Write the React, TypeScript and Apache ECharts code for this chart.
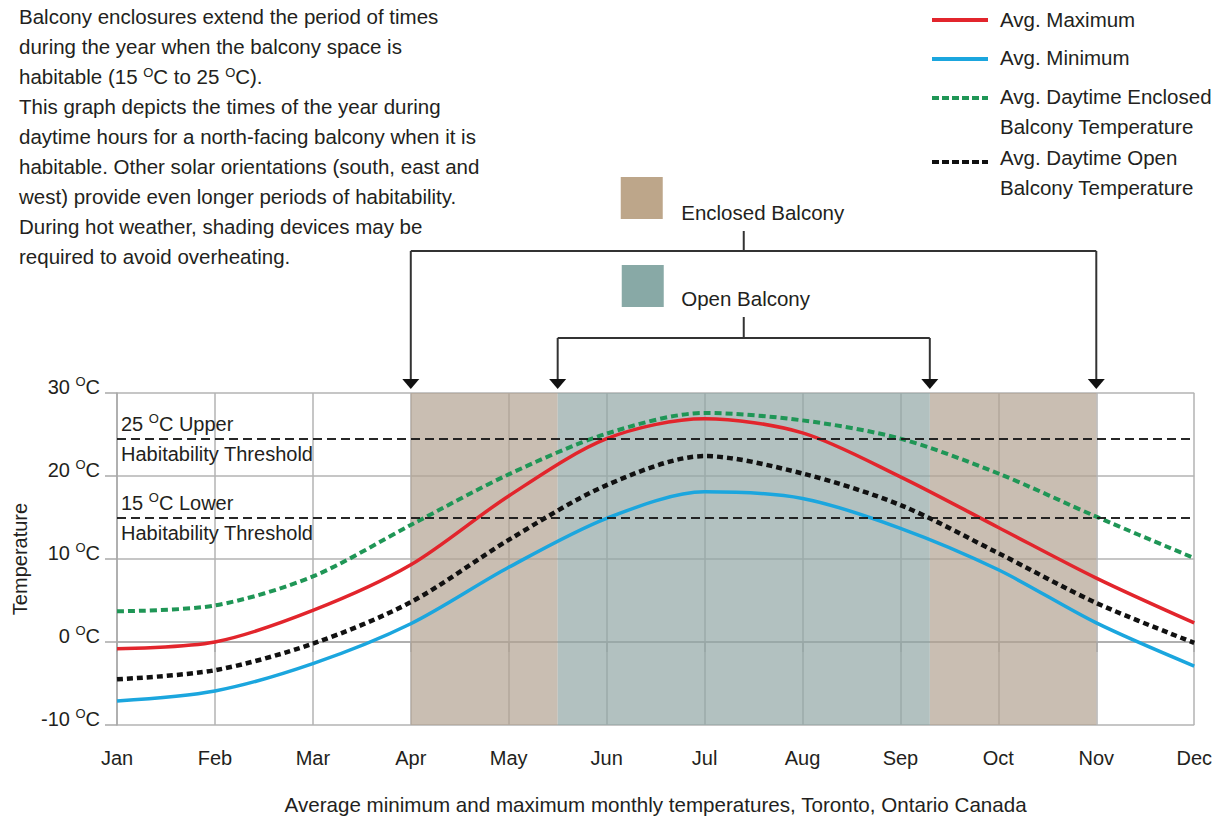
import React, { useEffect, useRef } from "react";
import * as echarts from "echarts";

const months = ["Jan", "Feb", "Mar", "Apr", "May", "Jun", "Jul", "Aug", "Sep", "Oct", "Nov", "Dec"];
const avgMax = [-0.8, 0.0, 3.8, 9.3, 17.6, 24.5, 26.9, 25.2, 19.9, 13.8, 7.7, 2.3];
const avgMin = [-7.1, -5.9, -2.6, 2.2, 9.0, 14.9, 18.1, 17.3, 13.7, 8.7, 2.3, -2.9];
const enclosedTemp = [3.7, 4.4, 7.9, 14.1, 20.2, 25.1, 27.6, 26.7, 24.5, 20.3, 15.1, 10.1];
const openTemp = [-4.5, -3.4, -0.2, 4.8, 12.3, 18.9, 22.4, 20.3, 16.5, 10.7, 4.7, -0.1];

const thresholdValues = [24.5, 15];
const thresholdTop = ["25 {s|O}C Upper", "15 {s|O}C Lower"];
const thresholdBottom = ["Habitability Threshold", "Habitability Threshold"];

const enclosedSpan = [3, 10]; // Apr - Nov
const openSpan = [4.5, 8.3]; // mid May - early Oct

const yMin = -10;
const yMax = 30;
const yStep = 10;

const FONT = "'Liberation Sans', Arial, Helvetica, sans-serif";
const TXT = "#231f20";

const paragraph = [
  "Balcony enclosures extend the period of times",
  "during the year when the balcony space is",
  "habitable (15 {s|O}C to 25 {s|O}C).",
  "This graph depicts the times of the year during",
  "daytime hours for a north-facing balcony when it is",
  "habitable. Other solar orientations (south, east and",
  "west) provide even longer periods of habitability.",
  "During hot weather, shading devices may be",
  "required to avoid overheating.",
];

const COL_MAX = "#e2252c";
const COL_MIN = "#1ba6de";
const COL_ENC = "#1f9656";
const COL_OPEN = "#111111";
const COL_ENC_AREA = "#b2a292";
const COL_OPEN_AREA = "#92a6a5";

export default function App() {
  const ref = useRef<HTMLDivElement>(null);
  useEffect(() => {
    document.body.style.margin = "0";
    const el = ref.current;
    if (!el) return;
    const chart = echarts.init(el, null, { renderer: "svg" });

    const sup = { fontSize: 13, lineHeight: 13, verticalAlign: "top", fontFamily: FONT, color: TXT, fill: TXT };

    const line = (name: string, data: number[], color: string, width: number, type: any) => ({
      name,
      type: "line",
      data: data.map((v, i) => [i, v]),
      smooth: 0.3,
      symbol: "none",
      silent: true,
      z: 4,
      lineStyle: { color, width, type, cap: "butt" },
    });

    const markLineData: any[] = [];
    thresholdValues.forEach((v, i) => {
      markLineData.push({
        yAxis: v,
        label: { formatter: thresholdTop[i], position: "insideStartTop" },
      });
      markLineData.push({
        yAxis: v,
        label: { formatter: thresholdBottom[i], position: "insideStartBottom" },
      });
    });

    // split enclosed span so that open shading is not tinted by it
    const encPieces: number[][] = [
      [enclosedSpan[0], openSpan[0]],
      [openSpan[1], enclosedSpan[1]],
    ];

    const option: any = {
      animation: false,
      grid: { left: 117, right: 20, top: 393, bottom: 95 },
      xAxis: {
        type: "value",
        min: 0,
        max: months.length - 1,
        interval: 1,
        name: "Average minimum and maximum monthly temperatures, Toronto, Ontario Canada",
        nameLocation: "middle",
        nameGap: 69,
        nameTextStyle: { fontSize: 20.6, fontFamily: FONT, color: TXT },
        axisLine: { lineStyle: { color: "#a9a9a9", width: 1.5 } },
        axisTick: { length: 10, lineStyle: { color: "#a9a9a9", width: 1.5 } },
        axisLabel: {
          formatter: (v: number) => months[v] ?? "",
          fontSize: 20,
          fontFamily: FONT,
          color: TXT,
          margin: 21,
          lineHeight: 24,
        },
        splitLine: { show: true, lineStyle: { color: "#b3b3b3", width: 1.5 } },
      },
      yAxis: {
        type: "value",
        min: yMin,
        max: yMax,
        interval: yStep,
        name: "Temperature",
        nameLocation: "middle",
        nameGap: 72,
        nameTextStyle: { fontSize: 20, fontFamily: FONT, color: TXT },
        axisLine: { show: true, lineStyle: { color: "#a9a9a9", width: 1.5 } },
        axisTick: { show: true, length: 12, lineStyle: { color: "#a9a9a9", width: 1.5 } },
        axisLabel: {
          formatter: (v: number) => `${v} {s|O}C`,
          fontSize: 20,
          fontFamily: FONT,
          color: TXT,
          margin: 17,
          lineHeight: 24,
          padding: [0, 0, 13, 0],
          rich: { s: sup },
        },
        splitLine: { show: true, lineStyle: { color: "#b3b3b3", width: 1.5 } },
      },
      series: [
        {
          name: "Enclosed Balcony",
          type: "line",
          data: [],
          silent: true,
          z: 1,
          markArea: {
            silent: true,
            data: [
              ...encPieces.map((p) => [
                { xAxis: p[0], itemStyle: { color: COL_ENC_AREA, opacity: 0.7 } },
                { xAxis: p[1] },
              ]),
              [
                { xAxis: openSpan[0], itemStyle: { color: COL_OPEN_AREA, opacity: 0.7 } },
                { xAxis: openSpan[1] },
              ],
            ],
          },
        },
        {
          name: "Thresholds",
          type: "line",
          data: [],
          silent: true,
          z: 3,
          markLine: {
            silent: true,
            symbol: ["none", "none"],
            lineStyle: { color: "#1a1a1a", width: 1.5, type: [9, 5] },
            label: {
              fontSize: 20,
              fontFamily: FONT,
              color: TXT,
              distance: [4, 3],
              lineHeight: 24,
              rich: { s: sup },
            },
            data: markLineData,
          },
        },
        line("Avg. Maximum", avgMax, COL_MAX, 3.5, "solid"),
        line("Avg. Minimum", avgMin, COL_MIN, 3.5, "solid"),
        line("Avg. Daytime Enclosed Balcony Temperature", enclosedTemp, COL_ENC, 4, [7, 4]),
        line("Avg. Daytime Open Balcony Temperature", openTemp, COL_OPEN, 4.5, [6, 4]),
      ],
    };
    chart.setOption(option);

    const px = (x: number, y: number) =>
      chart.convertToPixel({ xAxisIndex: 0, yAxisIndex: 0 }, [x, y]) as number[];
    const topY = px(0, yMax)[1];
    const eL = px(enclosedSpan[0], yMax)[0];
    const eR = px(enclosedSpan[1], yMax)[0];
    const oL = px(openSpan[0], yMax)[0];
    const oR = px(openSpan[1], yMax)[0];
    const midX = (oL + oR) / 2;

    const stroke = { stroke: "#333333", lineWidth: 2 };
    const tipY = topY - 4;
    const arrow = (x: number, fromY: number) => [
      { type: "line", shape: { x1: x, y1: fromY, x2: x, y2: tipY - 8 }, style: stroke, silent: true },
      {
        type: "polygon",
        shape: { points: [[x - 8.5, tipY - 10], [x + 8.5, tipY - 10], [x, tipY]] },
        style: { fill: "#111111" },
        silent: true,
      },
    ];
    const encBarY = 251;
    const openBarY = 338;

    const textStyle = (text: string, x: number, y: number, extra: any = {}) => ({
      type: "text",
      x,
      y,
      silent: true,
      style: {
        text,
        fontSize: 20.5,
        fontFamily: FONT,
        fill: TXT,
        lineHeight: 30,
        verticalAlign: "middle",
        ...extra,
      },
    });

    const legendX1 = 932;
    const legendX2 = 988;
    const legendTextX = 1000;

    const graphics: any[] = [
      {
        type: "text",
        x: 19,
        y: 2,
        silent: true,
        style: {
          text: paragraph.join("\n"),
          fontSize: 20.5,
          fontFamily: FONT,
          fill: TXT,
          lineHeight: 29.9,
          rich: { s: { fontSize: 13, lineHeight: 14, verticalAlign: "top", fontFamily: FONT, fill: TXT, padding: [4, 0, 0, 0] } },
        },
      },
      // legend
      { type: "line", shape: { x1: legendX1, y1: 20, x2: legendX2, y2: 20 }, style: { stroke: COL_MAX, lineWidth: 4 }, silent: true },
      textStyle("Avg. Maximum", legendTextX, 19),
      { type: "line", shape: { x1: legendX1, y1: 59, x2: legendX2, y2: 59 }, style: { stroke: COL_MIN, lineWidth: 4 }, silent: true },
      textStyle("Avg. Minimum", legendTextX, 57),
      { type: "line", shape: { x1: legendX1, y1: 98, x2: legendX2, y2: 98 }, style: { stroke: COL_ENC, lineWidth: 4, lineDash: [7, 3] }, silent: true },
      textStyle("Avg. Daytime Enclosed\nBalcony Temperature", legendTextX, 111),
      { type: "line", shape: { x1: legendX1, y1: 162, x2: legendX2, y2: 162 }, style: { stroke: COL_OPEN, lineWidth: 4, lineDash: [7, 3] }, silent: true },
      textStyle("Avg. Daytime Open\nBalcony Temperature", legendTextX, 172),
      // enclosed balcony key
      { type: "rect", shape: { x: midX - 123, y: 177, width: 42, height: 42 }, style: { fill: "#bda68a" }, silent: true },
      textStyle("Enclosed Balcony", midX - 62.5, 212),
      { type: "line", shape: { x1: midX, y1: 231, x2: midX, y2: encBarY }, style: stroke, silent: true },
      { type: "line", shape: { x1: eL, y1: encBarY, x2: eR, y2: encBarY }, style: stroke, silent: true },
      ...arrow(eL, encBarY),
      ...arrow(eR, encBarY),
      // open balcony key
      { type: "rect", shape: { x: midX - 122, y: 265, width: 42, height: 42 }, style: { fill: "#88a9a6" }, silent: true },
      textStyle("Open Balcony", midX - 62.5, 298),
      { type: "line", shape: { x1: midX, y1: 317, x2: midX, y2: openBarY }, style: stroke, silent: true },
      { type: "line", shape: { x1: oL, y1: openBarY, x2: oR, y2: openBarY }, style: stroke, silent: true },
      ...arrow(oL, openBarY),
      ...arrow(oR, openBarY),
    ];

    chart.setOption({ graphic: { elements: graphics } });

    return () => chart.dispose();
  }, []);

  return <div ref={ref} style={{ width: 1215, height: 820 }} />;
}
